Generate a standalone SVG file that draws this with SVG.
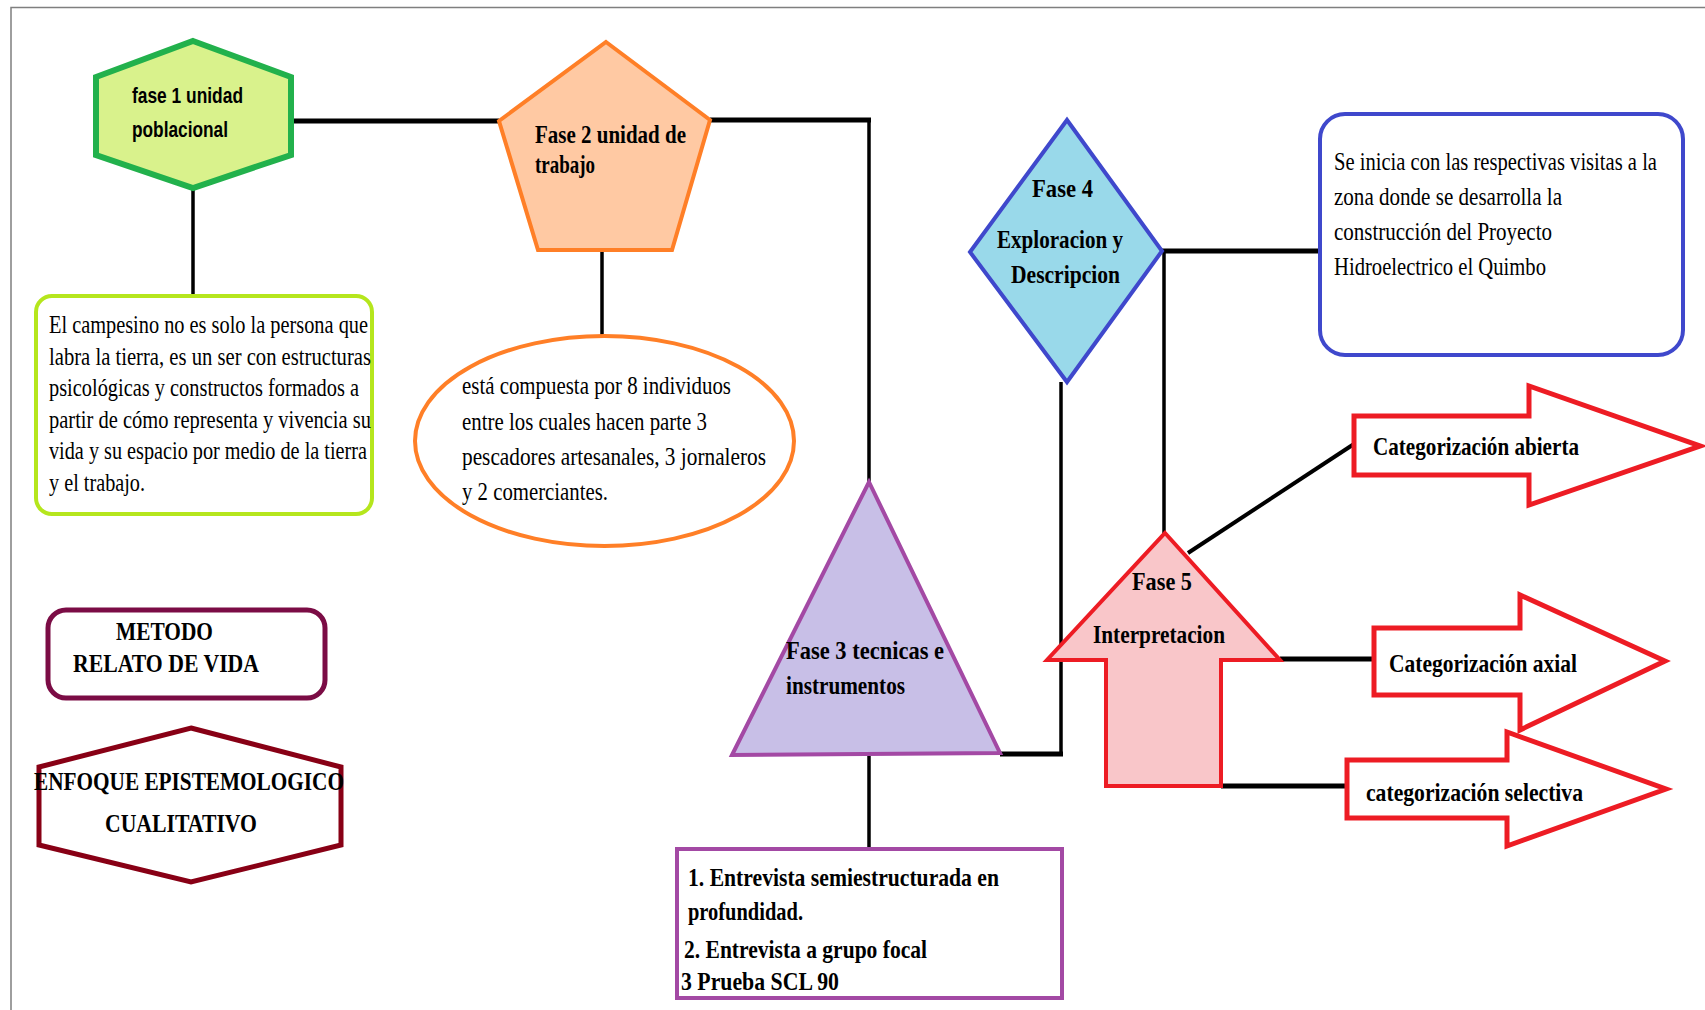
<svg xmlns="http://www.w3.org/2000/svg" width="1705" height="1010" viewBox="0 0 1705 1010">
<style>
.bg{fill:#ffffff}
.frame{stroke:#7f7f7f;stroke-width:1.5;fill:none}
.ch{stroke:#000;stroke-width:5;fill:none}
.cv{stroke:#000;stroke-width:3.5;fill:none}
.sans{font-family:"Liberation Sans",Arial,sans-serif;font-weight:bold;font-size:22px;fill:#000}
.b{font-family:"Liberation Serif","Times New Roman",serif;font-weight:bold;font-size:25px;fill:#000}
.bc{font-family:"Liberation Serif","Times New Roman",serif;font-weight:bold;font-size:26px;fill:#000}
.r{font-family:"Liberation Serif","Times New Roman",serif;font-size:25px;fill:#000}
.arrow{fill:#fff;stroke:#ED1C24;stroke-width:5;stroke-linejoin:miter}
</style>
<rect class="bg" x="0" y="0" width="1705" height="1010"/>
<path class="frame" d="M11 1010 V7.5 H1705"/>
<g id="connectors">
<path class="ch" d="M291 121 H499"/>
<path class="ch" d="M710 120 H871"/>
<path class="cv" d="M869 120 V482"/>
<path class="cv" d="M193 188 V296"/>
<path class="cv" d="M602 250 V336"/>
<path class="ch" d="M1162 251 H1320"/>
<path class="cv" d="M1164 251 V534"/>
<path class="cv" d="M1061 382 V754"/>
<path class="ch" d="M1000 754 H1063"/>
<path class="cv" d="M869 756 V849"/>
<path class="cv" style="stroke-width:4" d="M1354 444 L1188 553"/>
<path class="ch" d="M1280 659 H1374"/>
<path class="ch" d="M1221 786 H1347"/>
</g>
<g id="fase1">
<polygon points="193,41 291,77 291,155 193,188 96,155 96,77" fill="#D9F28C" stroke="#22B14C" stroke-width="6"/>
<text class="sans" x="132" y="103" textLength="111" lengthAdjust="spacingAndGlyphs">fase 1 unidad</text>
<text class="sans" x="132" y="137" textLength="96" lengthAdjust="spacingAndGlyphs">poblacional</text>
</g>
<g id="campesino">
<rect x="36" y="296" width="336" height="218" rx="16" fill="#fff" stroke="#B5E61D" stroke-width="4"/>
<text class="r" x="49" y="333" textLength="319" lengthAdjust="spacingAndGlyphs">El campesino no es solo la persona que</text>
<text class="r" x="49" y="364.5" textLength="322" lengthAdjust="spacingAndGlyphs">labra la tierra, es un ser con estructuras</text>
<text class="r" x="49" y="396" textLength="310" lengthAdjust="spacingAndGlyphs">psicológicas y constructos formados a</text>
<text class="r" x="49" y="427.5" textLength="322" lengthAdjust="spacingAndGlyphs">partir de cómo representa y vivencia su</text>
<text class="r" x="49" y="459" textLength="318" lengthAdjust="spacingAndGlyphs">vida y su espacio por medio de la tierra</text>
<text class="r" x="49" y="490.5" textLength="96" lengthAdjust="spacingAndGlyphs">y el trabajo.</text>
</g>
<g id="fase2">
<polygon points="606,42 710,120 672,250 538,250 499,121" fill="#FFC9A3" stroke="#FF7F27" stroke-width="4"/>
<text class="b" x="535" y="143" textLength="151" lengthAdjust="spacingAndGlyphs">Fase 2 unidad de</text>
<text class="b" x="535" y="173" textLength="60" lengthAdjust="spacingAndGlyphs">trabajo</text>
</g>
<g id="individuos">
<ellipse cx="604.5" cy="441" rx="189.5" ry="105" fill="#fff" stroke="#FF7F27" stroke-width="4"/>
<text class="r" x="462" y="394" textLength="269" lengthAdjust="spacingAndGlyphs">está compuesta por 8 individuos</text>
<text class="r" x="462" y="430" textLength="245" lengthAdjust="spacingAndGlyphs">entre los cuales hacen parte 3</text>
<text class="r" x="462" y="465" textLength="304" lengthAdjust="spacingAndGlyphs">pescadores artesanales, 3 jornaleros</text>
<text class="r" x="462" y="500" textLength="146" lengthAdjust="spacingAndGlyphs">y 2 comerciantes.</text>
</g>
<g id="fase3">
<polygon points="869,482 1000,753 732,755" fill="#C8BFE7" stroke="#A349A4" stroke-width="4"/>
<text class="b" x="786" y="659" textLength="158" lengthAdjust="spacingAndGlyphs">Fase 3 tecnicas e</text>
<text class="b" x="786" y="694" textLength="119" lengthAdjust="spacingAndGlyphs">instrumentos</text>
</g>
<g id="instrumentos">
<rect x="677" y="849" width="385" height="149" fill="#fff" stroke="#A349A4" stroke-width="4"/>
<text class="b" x="688" y="886" textLength="311" lengthAdjust="spacingAndGlyphs">1. Entrevista semiestructurada en</text>
<text class="b" x="688" y="920" textLength="115" lengthAdjust="spacingAndGlyphs">profundidad.</text>
<text class="b" x="684" y="958" textLength="243" lengthAdjust="spacingAndGlyphs">2. Entrevista a grupo focal</text>
<text class="b" x="681" y="990" textLength="158" lengthAdjust="spacingAndGlyphs">3 Prueba SCL 90</text>
</g>
<g id="fase4">
<polygon points="1067,120 1162,251 1067,382 970,252" fill="#99D9EA" stroke="#3F48CC" stroke-width="4"/>
<text class="b" x="1032" y="197" textLength="61" lengthAdjust="spacingAndGlyphs">Fase 4</text>
<text class="b" x="997" y="248" textLength="126" lengthAdjust="spacingAndGlyphs">Exploracion y</text>
<text class="b" x="1011" y="283" textLength="109" lengthAdjust="spacingAndGlyphs">Descripcion</text>
</g>
<g id="visitas">
<rect x="1320" y="114" width="363" height="241" rx="25" fill="#fff" stroke="#3F48CC" stroke-width="4"/>
<text class="r" x="1334" y="170" textLength="323" lengthAdjust="spacingAndGlyphs">Se inicia con las respectivas visitas a la</text>
<text class="r" x="1334" y="205" textLength="228" lengthAdjust="spacingAndGlyphs">zona donde se desarrolla la</text>
<text class="r" x="1334" y="240" textLength="218" lengthAdjust="spacingAndGlyphs">construcción del Proyecto</text>
<text class="r" x="1334" y="275" textLength="212" lengthAdjust="spacingAndGlyphs">Hidroelectrico el Quimbo</text>
</g>
<g id="fase5">
<polygon points="1165,533 1280,660 1221,660 1221,786 1106,786 1106,660 1047,660" fill="#F9C6C9" stroke="#ED1C24" stroke-width="4"/>
<text class="b" x="1132" y="590" textLength="60" lengthAdjust="spacingAndGlyphs">Fase 5</text>
<text class="b" x="1093" y="643" textLength="132" lengthAdjust="spacingAndGlyphs">Interpretacion</text>
</g>
<g id="abierta">
<polygon class="arrow" points="1354,416 1529,416 1529,386 1700,446 1529,505 1529,475 1354,475"/>
<text class="bc" x="1373" y="455" textLength="206" lengthAdjust="spacingAndGlyphs">Categorización abierta</text>
</g>
<g id="axial">
<polygon class="arrow" points="1374,628 1520,628 1520,595 1665,661 1520,730 1520,695 1374,695"/>
<text class="bc" x="1389" y="672" textLength="188" lengthAdjust="spacingAndGlyphs">Categorización axial</text>
</g>
<g id="selectiva">
<polygon class="arrow" points="1347,760 1507,760 1507,732 1666,789 1507,846 1507,818 1347,818"/>
<text class="bc" x="1366" y="801" textLength="217" lengthAdjust="spacingAndGlyphs">categorización selectiva</text>
</g>
<g id="metodo">
<rect x="48" y="610" width="277" height="88" rx="18" fill="#fff" stroke="#7B0C45" stroke-width="5"/>
<text class="b" x="116" y="640" textLength="97" lengthAdjust="spacingAndGlyphs">METODO</text>
<text class="b" x="73" y="672" textLength="186" lengthAdjust="spacingAndGlyphs">RELATO DE VIDA</text>
</g>
<g id="enfoque">
<polygon points="191,728 341,767 341,845 191,882 39,845 39,767" fill="#fff" stroke="#880015" stroke-width="5"/>
<text class="b" x="34" y="790" textLength="310" lengthAdjust="spacingAndGlyphs">ENFOQUE EPISTEMOLOGICO</text>
<text class="b" x="105" y="832" textLength="152" lengthAdjust="spacingAndGlyphs">CUALITATIVO</text>
</g>
</svg>
